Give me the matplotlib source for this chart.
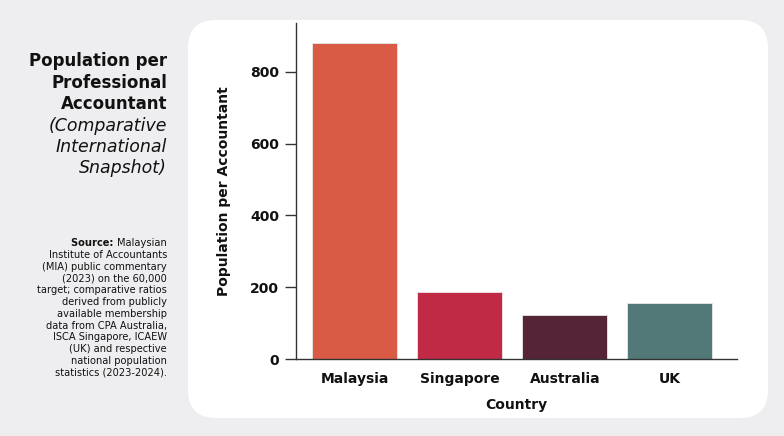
import matplotlib
matplotlib.use("Agg")
import matplotlib.pyplot as plt
from matplotlib.patches import FancyBboxPatch

# Data
countries = ["Malaysia", "Singapore", "Australia", "UK"]
pop_per_accountant = [880, 187, 123, 156]
bar_colors = ["#DA5B45", "#C02A45", "#562437", "#537878"]
y_ticks = [0, 200, 400, 600, 800]

plt.rcParams['font.family'] = ['DejaVu Sans']

fig = plt.figure(figsize=(7.84, 4.36), dpi=100)
fig.patch.set_facecolor("#EEEEF0")

# white rounded panel behind the chart (inch coordinates)
panel = FancyBboxPatch((1.88, 0.18), 5.80, 3.98,
                       boxstyle="round,pad=0,rounding_size=0.28",
                       transform=fig.dpi_scale_trans,
                       facecolor="white", edgecolor="none", zorder=-5)
fig.patches.append(panel)

ax = fig.add_axes([0.3776, 0.1766, 0.5625, 0.7704])
ax.set_zorder(2)
ax.set_facecolor("none")

ax.bar(countries, pop_per_accountant, width=0.81, color=bar_colors,
       edgecolor="#e8e8e8", linewidth=0.6, zorder=2)

ax.set_xlim(-0.56, 3.64)
ax.set_ylim(0, 936)
ax.set_yticks(y_ticks)

for s in ["top", "right"]:
    ax.spines[s].set_visible(False)
for s in ["left", "bottom"]:
    ax.spines[s].set_color("#333333")
    ax.spines[s].set_linewidth(1.0)

ax.tick_params(axis="y", length=8, width=1, color="#333333", labelsize=10, pad=4)
ax.tick_params(axis="x", length=0, labelsize=10, pad=9)
for lab in ax.get_xticklabels() + ax.get_yticklabels():
    lab.set_fontweight("bold")
    lab.set_color("#111111")

ax.set_xlabel("Country", fontsize=10, fontweight="bold", labelpad=9, color="#111111")
ax.set_ylabel("Population per Accountant", fontsize=10, fontweight="bold",
              labelpad=14, color="#111111")

# left side title block
fig.text(167 / 784, 1 - 52 / 436, "Population per\nProfessional\nAccountant",
         ha="right", va="top", fontsize=12, fontweight="bold",
         linespacing=1.25, color="#111111")
fig.text(167 / 784, 1 - 117 / 436, "(Comparative\nInternational\nSnapshot)",
         ha="right", va="top", fontsize=12.5, style="italic",
         linespacing=1.2, color="#111111")

# source note: bold "Source:" on the first line, rest regular
src_size = 7.1
line_px = src_size * 1.22 * 100 / 72
src_top = 1 - 238 / 436
first = fig.text(167 / 784, src_top, "Malaysian", ha="right", va="top",
                 fontsize=src_size, color="#111111")
source_rest = ("Institute of Accountants\n"
               "(MIA) public commentary\n"
               "(2023) on the 60,000\n"
               "target; comparative ratios\n"
               "derived from publicly\n"
               "available membership\n"
               "data from CPA Australia,\n"
               "ISCA Singapore, ICAEW\n"
               "(UK) and respective\n"
               "national population\n"
               "statistics (2023-2024).")
fig.text(167 / 784, src_top - line_px / 436, source_rest, ha="right", va="top",
         fontsize=src_size, linespacing=1.22, color="#111111",
         multialignment="right")

fig.canvas.draw()
bb = first.get_window_extent()
fig.text(bb.x0 / 784, bb.y0 / 436, "Source: ", ha="right", va="bottom",
         fontsize=src_size, fontweight="bold", color="#111111")

fig.savefig("out.png", dpi=100, facecolor=fig.get_facecolor())
